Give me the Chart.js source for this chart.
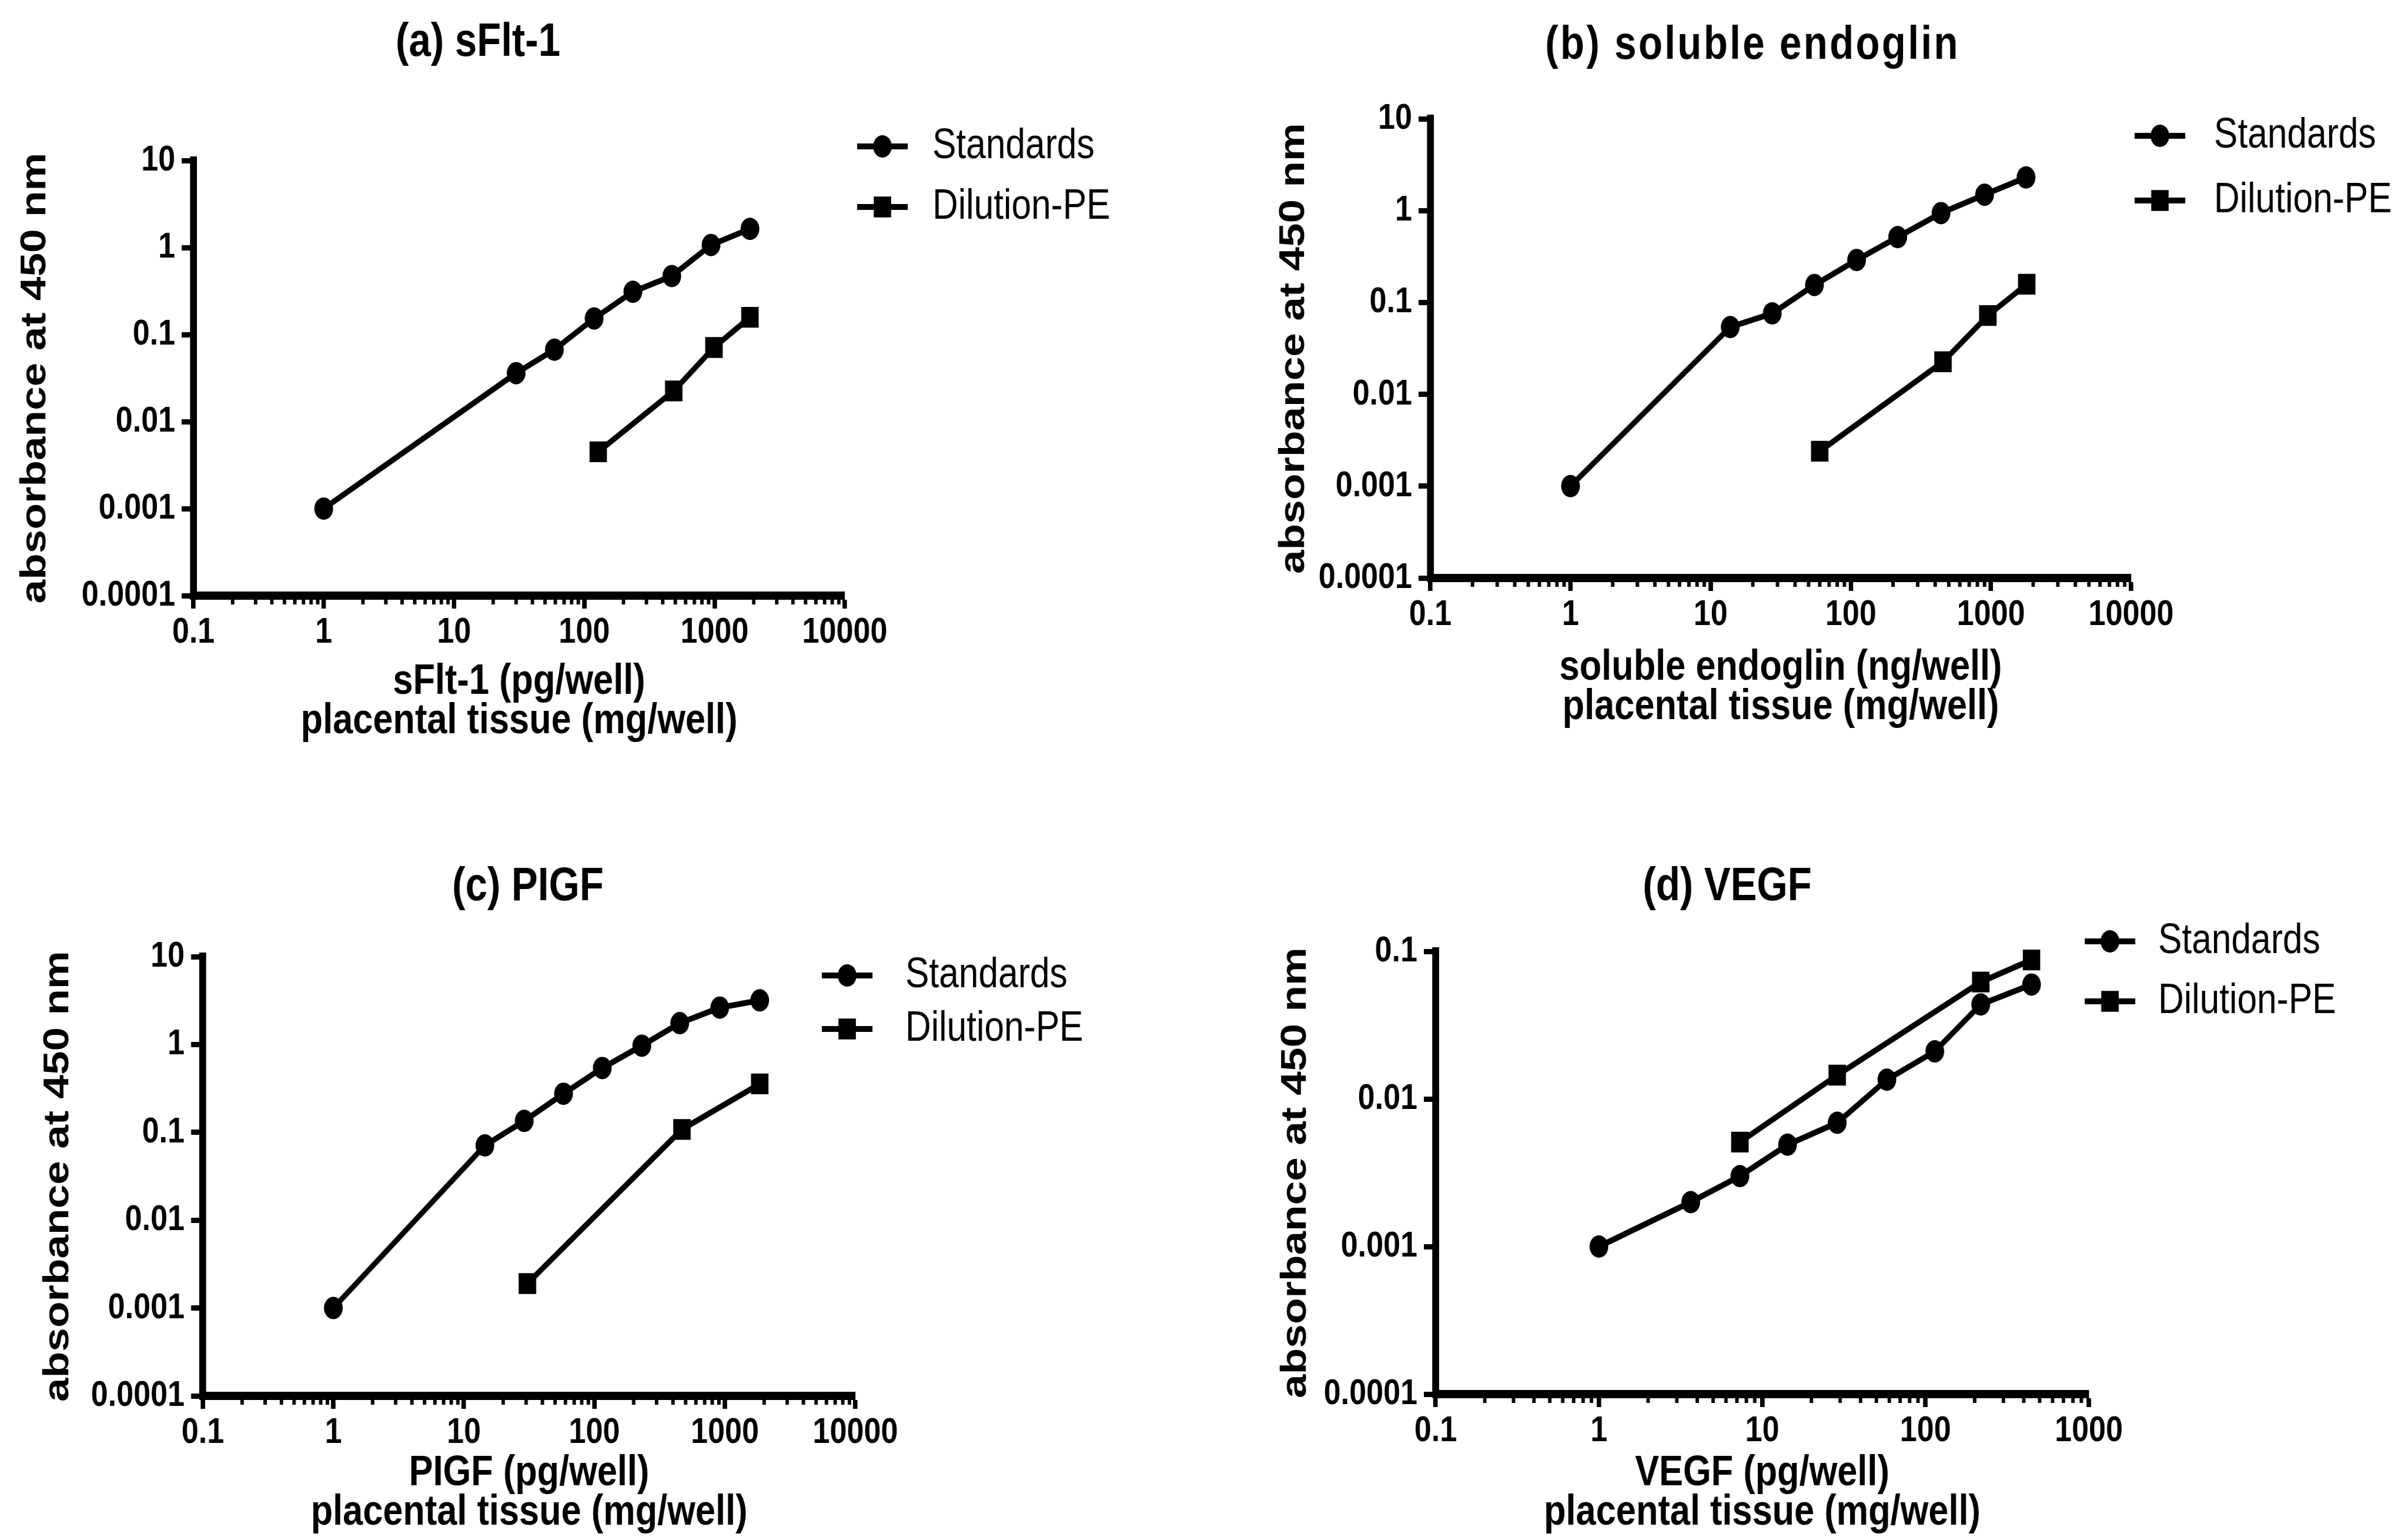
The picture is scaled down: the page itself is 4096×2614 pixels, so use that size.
<!DOCTYPE html>
<html>
<head>
<meta charset="utf-8">
<script src="https://cdn.jsdelivr.net/npm/chart.js@4.4.0/dist/chart.umd.min.js"></script>
<style>
  html, body { margin: 0; padding: 0; background: #fff; overflow: hidden; }
  body { width: 4096px; height: 2614px; position: relative; }
  canvas { position: absolute; transform-origin: 0 0; }
</style>
</head>
<body>
<canvas id="panelA"></canvas>
<canvas id="panelB"></canvas>
<canvas id="panelC"></canvas>
<canvas id="panelD"></canvas>
<script>
// ---- data ----
var seriesNames = ['Standards', 'Dilution-PE'];

// (a) sFlt-1
var sflt_std_x = [1, 30, 59, 119, 236, 470, 940, 1870];
var sflt_std_y = [0.001, 0.036, 0.067, 0.153, 0.31, 0.47, 1.07, 1.64];
var sflt_pe_x = [128, 486, 990, 1870];
var sflt_pe_y = [0.0045, 0.0225, 0.071, 0.158];

// (b) soluble endoglin
var seng_std_x = [1, 13.8, 27.5, 55, 110, 216, 440, 900, 1780];
var seng_std_y = [0.001, 0.054, 0.076, 0.155, 0.29, 0.515, 0.94, 1.49, 2.3];
var seng_pe_x = [60, 455, 950, 1800];
var seng_pe_y = [0.0024, 0.0226, 0.072, 0.158];

// (c) PlGF
var plgf_std_x = [1, 14.5, 29, 58, 115, 231, 451, 914, 1850];
var plgf_std_y = [0.001, 0.071, 0.135, 0.275, 0.54, 0.97, 1.75, 2.63, 3.18];
var plgf_pe_x = [30.7, 469, 1850];
var plgf_pe_y = [0.0019, 0.108, 0.356];

// (d) VEGF
var vegf_std_x = [1, 3.65, 7.3, 14.3, 28.8, 58, 114, 218, 446];
var vegf_std_y = [0.001, 0.002, 0.003, 0.0049, 0.0069, 0.0135, 0.021, 0.0437, 0.0596];
var vegf_pe_x = [7.3, 28.8, 218, 446];
var vegf_pe_y = [0.0051, 0.0145, 0.062, 0.0875];

// axis ticks
var xTicks5 = [0.1, 1, 10, 100, 1000, 10000];
var xLabels5 = ['0.1', '1', '10', '100', '1000', '10000'];
var xTicks4 = [0.1, 1, 10, 100, 1000];
var xLabels4 = ['0.1', '1', '10', '100', '1000'];
var yTicks5 = [0.0001, 0.001, 0.01, 0.1, 1, 10];
var yLabels5 = ['0.0001', '0.001', '0.01', '0.1', '1', '10'];
var yTicks3 = [0.0001, 0.001, 0.01, 0.1];
var yLabels3 = ['0.0001', '0.001', '0.01', '0.1'];

var yTitle = 'absorbance at 450 nm';
var xSub = 'placental tissue (mg/well)';

// ---- styling ----
var FONT = "'Liberation Sans', Arial, sans-serif";
var SX = 0.84;          // the whole figure is set horizontally condensed
var AXIS_SIZE = 73;
var AXIS_LH = 67;
var TICK_SIZE = 62;

function toPoints(xs, ys) {
    var pts = [];
    for (var i = 0; i < xs.length; i++) {
        pts.push({ x: xs[i], y: ys[i] });
    }
    return pts;
}

// minor x ticks, heading and legend for each panel
var panelDecor = {
    id: 'panelDecor',
    afterDraw: function (chart, args, opts) {
        var ctx = chart.ctx;
        var xs = chart.scales.x;
        var area = chart.chartArea;
        ctx.save();
        ctx.strokeStyle = '#000';
        ctx.fillStyle = '#000';
        ctx.lineWidth = 7;
        var lo = Math.floor(Math.log10(xs.min));
        var hi = Math.ceil(Math.log10(xs.max));
        for (var d = lo; d < hi; d++) {
            for (var k = 2; k <= 9; k++) {
                var v = k * Math.pow(10, d);
                if (v <= xs.min || v >= xs.max) continue;
                var px = xs.getPixelForValue(v);
                ctx.beginPath();
                ctx.moveTo(px, area.bottom);
                ctx.lineTo(px, area.bottom + 15);
                ctx.stroke();
            }
        }

        ctx.font = 'bold 80px ' + FONT;
        ctx.textAlign = 'center';
        ctx.textBaseline = 'middle';
        ctx.letterSpacing = (opts.titleSpacing || 0) + 'px';
        ctx.fillText(opts.title, opts.titleX, opts.titleY);
        ctx.letterSpacing = '0px';

        ctx.font = '72px ' + FONT;
        ctx.textAlign = 'left';
        var half = 43 / SX;
        chart.data.datasets.forEach(function (ds, i) {
            var y = opts.legendY[i];
            ctx.lineWidth = 10;
            ctx.beginPath();
            ctx.moveTo(opts.legendX - half, y);
            ctx.lineTo(opts.legendX + half, y);
            ctx.stroke();
            ctx.beginPath();
            if (ds.pointStyle === 'rect') {
                var h = ds.pointRadius * Math.SQRT1_2;
                ctx.rect(opts.legendX - h, y - h, 2 * h, 2 * h);
            } else {
                ctx.arc(opts.legendX, y, ds.pointRadius, 0, Math.PI * 2);
            }
            ctx.fill();
            ctx.fillText(ds.label, opts.textX, y);
        });
        ctx.restore();
    }
};

function buildPanel(id, p) {
    var box = {
        left: p.yTitleX - 50,
        top: Math.min(p.plot.t, p.titleY, p.legendY[0]) - 70,
        right: Math.min(4096, p.textX + 340),
        bottom: p.xTitleY + AXIS_LH + 50
    };
    // page x -> canvas x
    var lx = function (x) { return (x - box.left) / SX; };

    var cv = document.getElementById(id);
    cv.width = Math.round(lx(box.right));
    cv.height = box.bottom - box.top;
    cv.style.left = box.left + 'px';
    cv.style.top = box.top + 'px';
    cv.style.transform = 'scaleX(' + SX + ')';

    var yw = lx(p.plot.l);
    var xh = box.bottom - p.plot.b;

    var lineStyle = {
        showLine: true,
        borderColor: '#000',
        borderWidth: 10,
        backgroundColor: '#000',
        pointBackgroundColor: '#000',
        pointBorderWidth: 0,
        tension: 0
    };

    return new Chart(cv, {
        type: 'scatter',
        data: {
            datasets: [
                Object.assign({
                    label: seriesNames[0],
                    data: toPoints(p.std[0], p.std[1]),
                    pointStyle: 'circle',
                    pointRadius: 19
                }, lineStyle),
                Object.assign({
                    label: seriesNames[1],
                    data: toPoints(p.pe[0], p.pe[1]),
                    pointStyle: 'rect',
                    pointRadius: 25
                }, lineStyle)
            ]
        },
        options: {
            responsive: false,
            animation: false,
            devicePixelRatio: 1,
            clip: false,
            layout: {
                autoPadding: false,
                padding: { left: 0, top: p.plot.t - box.top, right: cv.width - lx(p.plot.r), bottom: 0 }
            },
            plugins: {
                legend: { display: false },
                tooltip: { enabled: false },
                panelDecor: {
                    title: p.title,
                    titleSpacing: p.titleSpacing,
                    titleX: lx(p.titleX),
                    titleY: p.titleY - box.top,
                    legendX: lx(p.legendX),
                    legendY: [p.legendY[0] - box.top, p.legendY[1] - box.top],
                    textX: lx(p.textX)
                }
            },
            scales: {
                x: {
                    type: 'logarithmic',
                    position: 'bottom',
                    min: p.xTicks[0],
                    max: p.xTicks[p.xTicks.length - 1],
                    afterBuildTicks: function (s) {
                        s.ticks = p.xTicks.map(function (v) { return { value: v }; });
                    },
                    afterFit: function (s) { s.height = xh; },
                    ticks: {
                        callback: function (v, i) { return p.xLabels[i]; },
                        autoSkip: false, maxRotation: 0, minRotation: 0,
                        padding: 4,
                        color: '#000',
                        font: { family: FONT, weight: 'bold', size: TICK_SIZE, lineHeight: 1.2 }
                    },
                    grid: { drawOnChartArea: false, drawTicks: true, tickLength: 22, tickWidth: 9, tickColor: '#000' },
                    border: { display: true, color: '#000', width: 14 },
                    title: {
                        display: true,
                        text: [p.xTitle, xSub],
                        color: '#000',
                        font: { family: FONT, weight: 'bold', size: AXIS_SIZE, lineHeight: AXIS_LH / AXIS_SIZE },
                        padding: { top: 0, bottom: 50 - AXIS_LH / 2 }
                    }
                },
                y: {
                    type: 'logarithmic',
                    position: 'left',
                    min: p.yTicks[0],
                    max: p.yTicks[p.yTicks.length - 1],
                    afterBuildTicks: function (s) {
                        s.ticks = p.yTicks.map(function (v) { return { value: v }; });
                    },
                    afterFit: function (s) { s.width = yw; },
                    ticks: {
                        callback: function (v, i) { return p.yLabels[i]; },
                        autoSkip: false,
                        padding: 11 / SX,
                        color: '#000',
                        font: { family: FONT, weight: 'bold', size: TICK_SIZE, lineHeight: 1.2 }
                    },
                    grid: { drawOnChartArea: false, drawTicks: true, tickLength: 20 / SX, tickWidth: 9, tickColor: '#000' },
                    border: { display: true, color: '#000', width: 14 },
                    title: {
                        display: true,
                        text: yTitle,
                        color: '#000',
                        font: { family: FONT, weight: 'bold', size: AXIS_SIZE, lineHeight: 1 },
                        padding: { top: 50 / SX - AXIS_SIZE / 2, bottom: 0 }
                    }
                }
            }
        },
        plugins: [panelDecor]
    });
}

buildPanel('panelA', {
    title: '(a) sFlt-1', titleX: 813, titleY: 73,
    plot: { l: 329, t: 273, r: 1437, b: 1013 },
    yTitleX: 60, xTitleY: 1160, xTitle: 'sFlt-1 (pg/well)',
    legendX: 1501, legendY: [249, 352], textX: 1586,
    xTicks: xTicks5, xLabels: xLabels5, yTicks: yTicks5, yLabels: yLabels5,
    std: [sflt_std_x, sflt_std_y], pe: [sflt_pe_x, sflt_pe_y]
});

buildPanel('panelB', {
    title: '(b) soluble endoglin', titleSpacing: 4, titleX: 2981, titleY: 78,
    plot: { l: 2433, t: 202, r: 3625, b: 983 },
    yTitleX: 2201, xTitleY: 1136, xTitle: 'soluble endoglin (ng/well)',
    legendX: 3674, legendY: [231, 341], textX: 3766,
    xTicks: xTicks5, xLabels: xLabels5, yTicks: yTicks5, yLabels: yLabels5,
    std: [seng_std_x, seng_std_y], pe: [seng_pe_x, seng_pe_y]
});

buildPanel('panelC', {
    title: '(c) PIGF', titleX: 898, titleY: 1509,
    plot: { l: 345, t: 1627, r: 1455, b: 2374 },
    yTitleX: 99, xTitleY: 2506, xTitle: 'PIGF (pg/well)',
    legendX: 1441, legendY: [1659, 1750], textX: 1540,
    xTicks: xTicks5, xLabels: xLabels5, yTicks: yTicks5, yLabels: yLabels5,
    std: [plgf_std_x, plgf_std_y], pe: [plgf_pe_x, plgf_pe_y]
});

buildPanel('panelD', {
    title: '(d) VEGF', titleX: 2938, titleY: 1509,
    plot: { l: 2442, t: 1618, r: 3553, b: 2371 },
    yTitleX: 2204, xTitleY: 2506, xTitle: 'VEGF (pg/well)',
    legendX: 3589, legendY: [1601, 1703], textX: 3671,
    xTicks: xTicks4, xLabels: xLabels4, yTicks: yTicks3, yLabels: yLabels3,
    std: [vegf_std_x, vegf_std_y], pe: [vegf_pe_x, vegf_pe_y]
});
</script>
</body>
</html>
